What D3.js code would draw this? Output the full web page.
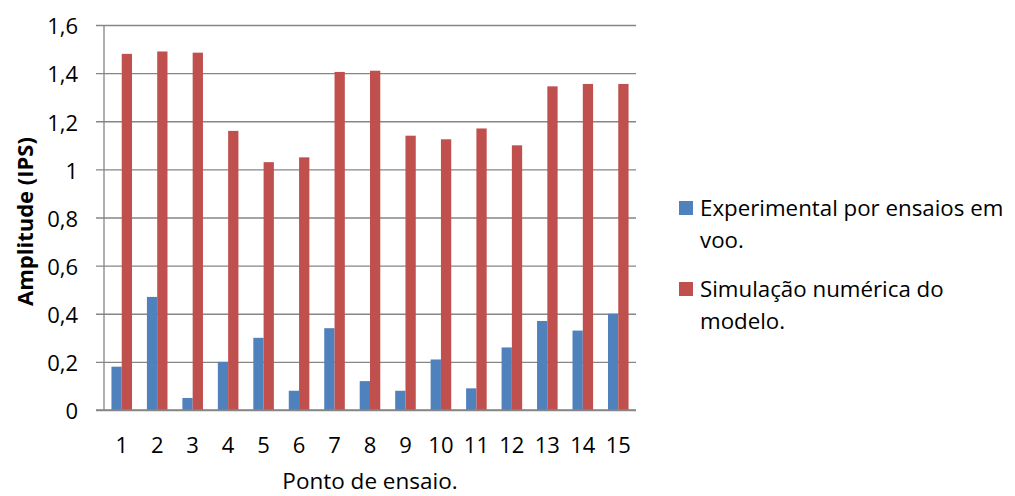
<!DOCTYPE html>
<html>
<head>
<meta charset="utf-8">
<script src="https://cdn.jsdelivr.net/npm/d3@7"></script>
<style>
  body { margin: 0; background: #fff; }
  text { font-family: "Open Sans", sans-serif; fill: #000; }
</style>
</head>
<body>
<div id="chart"></div>
<script>
// data
var categories = ['1', '2', '3', '4', '5', '6', '7', '8', '9', '10', '11', '12', '13', '14', '15'];
var experimental = [0.18, 0.47, 0.05, 0.20, 0.30, 0.08, 0.34, 0.12, 0.08, 0.21, 0.09, 0.26, 0.37, 0.33, 0.40];
var simulacao = [1.48, 1.49, 1.485, 1.16, 1.03, 1.05, 1.405, 1.41, 1.14, 1.125, 1.17, 1.10, 1.345, 1.355, 1.355];
var yTicks = [0, 0.2, 0.4, 0.6, 0.8, 1, 1.2, 1.4, 1.6];
var seriesNames = ['Experimental por ensaios em|voo.', 'Simulação numérica do|modelo.'];

var attrs = {
    svgWidth: 1015,
    svgHeight: 496,
    marginTop: 25,
    marginLeft: 104,
    plotRight: 636,
    plotBottom: 410,
    colors: ['#4F81BD', '#C0504D'],
    grid: '#868686'
};

var series = [experimental, simulacao];

var svg = d3.select('#chart')
    .append('svg')
    .attr('width', attrs.svgWidth)
    .attr('height', attrs.svgHeight);

// scales
var x = d3.scaleBand()
    .domain(categories)
    .range([attrs.marginLeft, attrs.plotRight])
    .paddingInner(0.42)
    .paddingOuter(0.21);

var xInner = d3.scaleBand()
    .domain([0, 1])
    .range([0, x.bandwidth()]);

var y = d3.scaleLinear()
    .domain([0, 1.6])
    .range([attrs.plotBottom, attrs.marginTop]);

// gridlines + y ticks
var fmt = function (d) { return d3.format('.1~f')(d).replace('.', ','); };

var yAxis = d3.axisLeft(y)
    .tickValues(yTicks)
    .tickSize(-(attrs.plotRight - attrs.marginLeft))
    .tickPadding(26)
    .tickFormat(fmt);

var gy = svg.append('g')
    .attr('transform', 'translate(' + attrs.marginLeft + ',0)')
    .call(yAxis);

gy.select('.domain').remove();
gy.selectAll('.tick line')
    .attr('x1', -8)
    .attr('stroke', attrs.grid)
    .attr('stroke-width', 1.3);
gy.selectAll('.tick text')
    .attr('font-size', 22)
    .attr('font-family', '"Open Sans", sans-serif')
    .attr('dy', '0.4em');

// y axis line
svg.append('line')
    .attr('x1', attrs.marginLeft).attr('x2', attrs.marginLeft)
    .attr('y1', y(1.6)).attr('y2', y(0))
    .attr('stroke', attrs.grid)
    .attr('stroke-width', 1.3);

// bars
var groups = svg.selectAll('g.cat')
    .data(categories)
    .enter()
    .append('g')
    .attr('class', 'cat')
    .attr('transform', function (d) { return 'translate(' + x(d) + ',0)'; });

groups.selectAll('rect')
    .data(function (d, i) { return series.map(function (s, k) { return { k: k, v: s[i] }; }); })
    .enter()
    .append('rect')
    .attr('x', function (d) { return xInner(d.k); })
    .attr('width', xInner.bandwidth())
    .attr('y', function (d) { return y(d.v); })
    .attr('height', function (d) { return y(0) - y(d.v); })
    .attr('fill', function (d) { return attrs.colors[d.k]; });

// x axis baseline over bars
svg.append('line')
    .attr('x1', attrs.marginLeft - 8).attr('x2', attrs.plotRight)
    .attr('y1', y(0)).attr('y2', y(0))
    .attr('stroke', attrs.grid)
    .attr('stroke-width', 1.3);

// x tick labels
var xAxis = d3.axisBottom(x).tickSize(0).tickPadding(0);
var gx = svg.append('g')
    .attr('transform', 'translate(0,' + attrs.plotBottom + ')')
    .call(xAxis);
gx.select('.domain').remove();
gx.selectAll('.tick text')
    .attr('font-size', 22)
    .attr('font-family', '"Open Sans", sans-serif')
    .attr('dy', 0)
    .attr('y', 43);

// axis titles
svg.append('text')
    .attr('x', (attrs.marginLeft + attrs.plotRight) / 2)
    .attr('y', 489)
    .attr('text-anchor', 'middle')
    .attr('font-size', 22.5)
    .text('Ponto de ensaio.');

svg.append('text')
    .attr('transform', 'translate(33,' + ((attrs.marginTop + attrs.plotBottom) / 2 + 4) + ') rotate(-90)')
    .attr('text-anchor', 'middle')
    .attr('font-size', 22)
    .attr('font-weight', 'bold')
    .text('Amplitude (IPS)');

// legend
var legend = svg.append('g').attr('transform', 'translate(679,0)');
var legendTop = [201, 282];

seriesNames.forEach(function (name, k) {
    legend.append('rect')
        .attr('x', 0)
        .attr('y', legendTop[k])
        .attr('width', 14)
        .attr('height', 14)
        .attr('fill', attrs.colors[k]);
    var t = legend.append('text')
        .attr('x', 21)
        .attr('y', legendTop[k] + 15)
        .attr('font-size', 22.3);
    name.split('|').forEach(function (line, j) {
        t.append('tspan')
            .attr('x', 21)
            .attr('dy', j === 0 ? 0 : 32)
            .text(line);
    });
});
</script>
</body>
</html>
